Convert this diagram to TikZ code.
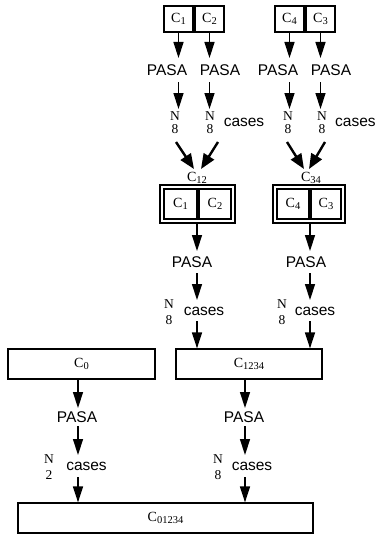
\documentclass[tikz,border=0pt]{standalone}
\usepackage{fontspec}
\setmainfont{Liberation Serif}
\setsansfont{Liberation Sans}
\usetikzlibrary{arrows.meta}
\newcommand{\csub}[1]{\raisebox{-0.35ex}{\fontsize{10.5}{10.5}\selectfont#1}}
\begin{document}
\begin{tikzpicture}[x=1pt,y=-1pt,
  arr/.style={line width=1.4pt,-{Triangle[length=16pt,width=10pt]}},
  darr/.style={line width=2.4pt,-{Triangle[length=15pt,width=12pt]}},
  bx/.style={draw,line width=1.2pt,inner sep=0pt,font=\fontsize{14}{14}\selectfont},
  lab/.style={inner sep=0pt,font=\fontsize{14}{14}\selectfont},
  pasa/.style={inner sep=0pt,font=\sffamily\fontsize{15.5}{15.5}\selectfont},
  cs/.style={inner sep=0pt,font=\sffamily\fontsize{15.5}{15.5}\selectfont},
  fraca/.style={inner sep=0pt,align=center,font=\fontsize{13.5}{13}\selectfont},
  fracb/.style={inner sep=0pt,align=center,font=\fontsize{13.5}{16}\selectfont}]
\useasboundingbox (0,0) rectangle (375,535);

% top boxes
\node[bx,minimum width=29pt,minimum height=26pt] (c1) at (178.5,19) {C\csub{1}};
\node[bx,minimum width=29pt,minimum height=26pt] (c2) at (209.5,19) {C\csub{2}};
\node[bx,minimum width=29pt,minimum height=26pt] (c4) at (289.5,19) {C\csub{4}};
\node[bx,minimum width=29pt,minimum height=26pt] (c3) at (320.5,19) {C\csub{3}};

% PASA row 1
\node[pasa] (p1) at (167,70) {PASA};
\node[pasa] (p2) at (220,70) {PASA};
\node[pasa] (p4) at (278,70) {PASA};
\node[pasa] (p3) at (331,70) {PASA};

\coordinate (a1) at (178.5,58);
\coordinate (a2) at (209.5,58);
\coordinate (a4) at (289.5,58);
\coordinate (a3) at (320.5,58);
\draw[arr] (c1.south) -- (a1);
\draw[arr] (c2.south) -- (a2);
\draw[arr] (c4.south) -- (a4);
\draw[arr] (c3.south) -- (a3);

\coordinate (b1s) at (178.5,82); \coordinate (b1e) at (178.5,109);
\coordinate (b2s) at (209.5,82); \coordinate (b2e) at (209.5,109);
\coordinate (b4s) at (289.5,82); \coordinate (b4e) at (289.5,109);
\coordinate (b3s) at (320.5,82); \coordinate (b3e) at (320.5,109);
\draw[arr] (b1s) -- (b1e);
\draw[arr] (b2s) -- (b2e);
\draw[arr] (b4s) -- (b4e);
\draw[arr] (b3s) -- (b3e);

% N/8 row 1
\node[fraca] (n1) at (175,123) {N\\8};
\node[fraca] (n2) at (210,123) {N\\8};
\node[fraca] (n4) at (288,123) {N\\8};
\node[fraca] (n3) at (322,123) {N\\8};
\node[cs] (cs1) at (244,122) {cases};
\node[cs,anchor=west] (cs2) at (335,122) {cases};

% diagonals
\coordinate (d1s) at (176,142); \coordinate (d1e) at (194,169);
\coordinate (d2s) at (218,142); \coordinate (d2e) at (201,169);
\coordinate (d4s) at (287,142); \coordinate (d4e) at (304,169);
\coordinate (d3s) at (325,142); \coordinate (d3e) at (309,169);
\draw[darr] (d1s) -- (d1e);
\draw[darr] (d2s) -- (d2e);
\draw[darr] (d4s) -- (d4e);
\draw[darr] (d3s) -- (d3e);

\node[lab] (l12) at (197,178) {C\csub{12}};
\node[lab] (l34) at (311,178) {C\csub{34}};

% double boxes
\node[draw,line width=1.2pt,minimum width=75pt,minimum height=38pt,inner sep=0pt] (o12) at (197.5,204) {};
\node[bx,minimum width=33pt,minimum height=30pt] (i1) at (180.5,204) {C\csub{1}};
\node[bx,minimum width=32pt,minimum height=30pt] (i2) at (215,204) {C\csub{2}};
\node[draw,line width=1.2pt,minimum width=72pt,minimum height=38pt,inner sep=0pt] (o34) at (309,204) {};
\node[bx,minimum width=32pt,minimum height=30pt] (i4) at (293,204) {C\csub{4}};
\node[bx,minimum width=30pt,minimum height=30pt] (i3) at (326,204) {C\csub{3}};

% row 2
\node[pasa] (q1) at (192,262) {PASA};
\node[pasa] (q2) at (306,262) {PASA};
\coordinate (e1) at (197,251); \coordinate (e2) at (310,251);
\draw[arr] (o12.south -| e1) -- (e1);
\draw[arr] (o34.south -| e2) -- (e2);
\coordinate (f1s) at (197,273); \coordinate (f1e) at (197,300);
\coordinate (f2s) at (310,273); \coordinate (f2e) at (310,300);
\draw[arr] (f1s) -- (f1e);
\draw[arr] (f2s) -- (f2e);
\node[fracb] (m1) at (169,312) {N\\8};
\node[fracb] (m2) at (282,312) {N\\8};
\node[cs] (cs3) at (204,311) {cases};
\node[cs] (cs4) at (315,311) {cases};

% middle boxes
\node[bx,minimum width=147pt,minimum height=30pt] (c0) at (81.5,364) {C\csub{0}};
\node[bx,minimum width=146pt,minimum height=30pt] (c1234) at (249,364) {C\csub{1234}};
\coordinate (g1s) at (197,321); \coordinate (g2s) at (310,321);
\draw[arr] (g1s) -- (g1s |- c1234.north);
\draw[arr] (g2s) -- (g2s |- c1234.north);

% row 3
\node[pasa] (r1) at (77,417) {PASA};
\node[pasa] (r2) at (244,417) {PASA};
\coordinate (h1) at (78,408); \coordinate (h2) at (245,408);
\draw[arr] (c0.south -| h1) -- (h1);
\draw[arr] (c1234.south -| h2) -- (h2);
\coordinate (k1s) at (78,426); \coordinate (k1e) at (78,455);
\coordinate (k2s) at (245,426); \coordinate (k2e) at (245,455);
\draw[arr] (k1s) -- (k1e);
\draw[arr] (k2s) -- (k2e);
\node[fracb] (t1) at (49,467) {N\\2};
\node[fracb] (t2) at (218,467) {N\\8};
\node[cs] (cs5) at (86.5,466) {cases};
\node[cs] (cs6) at (252,466) {cases};

% bottom box
\node[bx,minimum width=295pt,minimum height=30pt] (c01234) at (165.5,518) {C\csub{01234}};
\coordinate (u1s) at (78,477); \coordinate (u2s) at (245,477);
\draw[arr] (u1s) -- (u1s |- c01234.north);
\draw[arr] (u2s) -- (u2s |- c01234.north);
\end{tikzpicture}
\end{document}
